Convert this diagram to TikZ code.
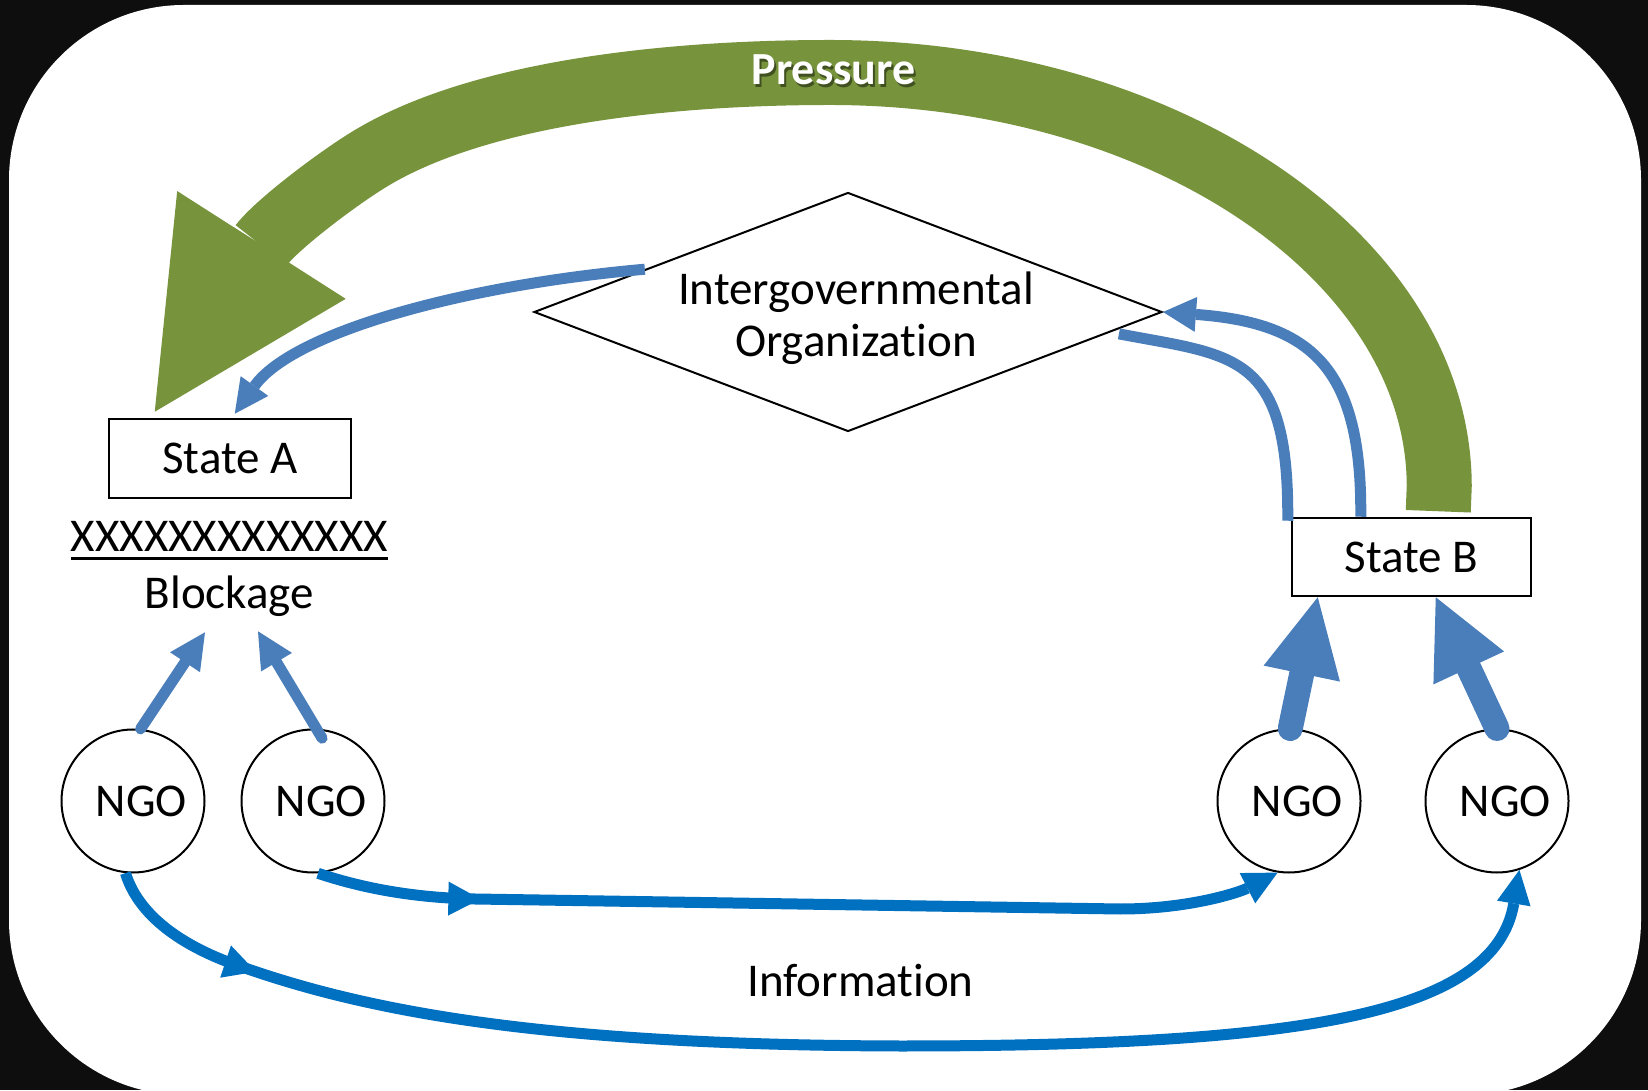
\documentclass[tikz,border=0pt]{standalone}
\usepackage{fontspec}
\setmainfont{Carlito}[Ligatures=CommonOff]
\usetikzlibrary{arrows.meta,shapes.geometric,calc,decorations.markings}
\definecolor{pgreen}{HTML}{77933C}
\definecolor{sblue}{HTML}{4A7EBB}
\definecolor{iblue}{HTML}{0070C0}
\definecolor{bgdark}{HTML}{0E0E0E}
\begin{document}
\begin{tikzpicture}[x=1pt,y=1pt,
  lbl/.style={font=\fontsize{47}{52}\selectfont, inner sep=0pt},
  statebox/.style={draw, line width=2.5pt, minimum width=242pt, minimum height=79pt, inner sep=0pt, font=\fontsize{47}{52}\selectfont},
  ngo/.style={circle, draw, line width=2pt, minimum size=143pt, inner sep=0pt, font=\fontsize{47}{52}\selectfont},
  igo/.style={diamond, draw, line width=2pt, minimum width=628pt, minimum height=239pt, inner sep=0pt},
  sarrow/.style={draw=sblue, line width=11pt},
  iarrow/.style={draw=iblue, line width=11pt},
  smalltip/.style={-{Triangle[length=34pt,width=34pt,line width=0pt]}},
  bigtip/.style={-{Triangle[length=78pt,width=78pt,line width=0pt]}},
  midtip/.style={postaction={decorate}, decoration={markings, mark=at position #1 with {\arrow{Triangle[length=32pt,width=34pt,line width=0pt]}}}}
]
\useasboundingbox (0,0) rectangle (1648,1090);
\clip (0,0) rectangle (1648,1090);
\fill[bgdark] (0,0) rectangle (1648,1090);
\fill[white, rounded corners=175pt] (9,-5) rectangle (1641,1085);

% nodes
\node[igo] (igo) at (848,778) {};
\node[lbl, anchor=base] (igotext) at (856,785) {\vtop{\halign{\hfil#\hfil\cr Intergovernmental\cr Organization\cr}}};
\node[statebox] (sa) at (230,631.5) {State A};
\node[statebox, minimum width=239pt, minimum height=78pt] (sb) at (1411.5,533) {State B};
\node[lbl, anchor=base] (xline) at (229.5,538) {\vtop{\hbox{XXXXXXXXXXXXX}\kern5pt\hrule height 3pt}};
\node[lbl, anchor=base] (blk) at (229.5,481) {Blockage};
\node[ngo] (ngo1) at (133,289) {\hspace*{17pt}NGO};
\node[ngo] (ngo2) at (313,289) {\hspace*{17pt}NGO};
\node[ngo] (ngo3) at (1289,289) {\hspace*{17pt}NGO};
\node[ngo] (ngo4) at (1497,289) {\hspace*{17pt}NGO};
\node[lbl, anchor=base] (info) at (860.5,94) {Information};
\coordinate (blkL) at ($(blk.south)+(-24.5,-15)$);
\coordinate (blkR) at ($(blk.south)+(28.5,-14)$);
\coordinate (gstart) at ($(sb.north east)+(-94,5.5)$);
\coordinate (gtip) at ($(sa.north west)+(47,6)$);
\coordinate (gbase) at ($(gtip)+(106.5,166.5)$);

% pressure arrow
\draw[line width=65pt, pgreen, -{Triangle[length=198pt,width=200pt,line width=0pt]}]
  (gstart) -- ++(1,25.5) .. controls (1438.5,832) and (1166,1017.5) .. (830,1017.5)
  .. controls (670,1017.5) and (476.7,997.9) .. (366.5,929)
  .. controls (332.6,907.8) and (276,864.5) .. (gbase) -- (gtip);
\node[font=\fontsize{46}{50}\selectfont\bfseries, text=black, opacity=0.45, anchor=base, inner sep=0pt] (pshadow) at (835.5,1002.5) {Pressure};
\node[font=\fontsize{46}{50}\selectfont\bfseries, text=white, anchor=base, inner sep=0pt] (pressure) at (833.5,1005) {Pressure};

% IGO -> State A
\draw[sarrow, smalltip] ($(igo.west)!0.355!(igo.north)$) .. controls (465,805) and (293,758) .. ($(sa.north west)+(127,4)$);
% State B -> IGO
\draw[sarrow] ($(sb.north west)+(-3,-4)$) .. controls (1289,738) and (1235,734) .. ($(igo.east)!0.14!(igo.south)+(0,-5)$);
\draw[sarrow, -{Triangle[length=33pt,width=35pt,line width=0pt]}] ($(sb.north west)+(70,0)$) .. controls (1362,722) and (1312,767) .. (igo.east);

% NGO -> Blockage
\draw[sarrow, line cap=round, -{Triangle[length=36pt,width=36pt,line width=0pt]}] (ngo1.84) -- (blkL);
\draw[sarrow, line cap=round, -{Triangle[length=36pt,width=36pt,line width=0pt]}] ($(ngo2.82)+(-1,-9)$) -- (blkR);
% NGO -> State B
\draw[sarrow, line width=25pt, line cap=round, bigtip] (ngo3.89) -- ($(sb.south west)+(27,0)$);
\draw[sarrow, line width=25pt, line cap=round, bigtip] (ngo4.north) -- ($(sb.south west)+(145,0)$);

% Information
\draw[iarrow, smalltip, midtip=165pt] (ngo2.274) .. controls (368,200) and (420,192) .. (475,191)
  -- (1120,181) .. controls (1190,181) and (1240,198) .. (ngo3.261);
\draw[iarrow, smalltip, midtip=170pt] (ngo1.264) .. controls (140,170) and (190,140) .. (245,122)
  .. controls (380,75) and (560,45) .. (900,44)
  .. controls (1300,44) and (1495,75) .. (ngo4.288);
\end{tikzpicture}
\end{document}
